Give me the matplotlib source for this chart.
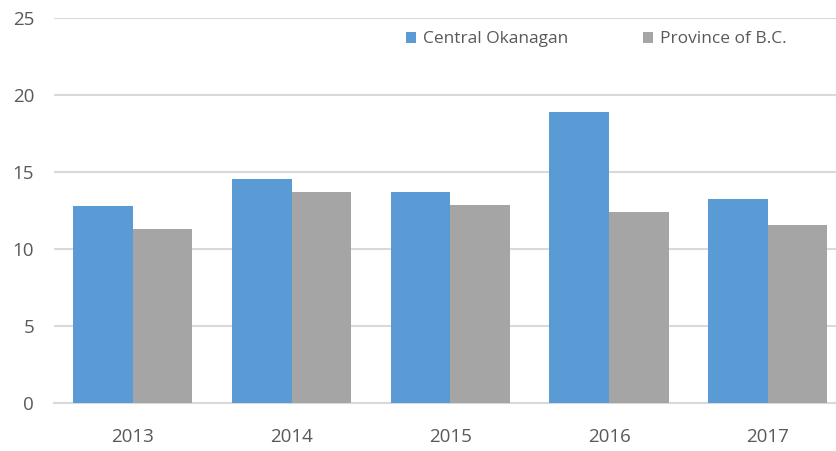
import matplotlib.pyplot as plt
import numpy as np

# Data
years = ['2013', '2014', '2015', '2016', '2017']
central_okanagan = [12.8, 14.5, 13.7, 18.9, 13.2]
province_bc = [11.3, 13.7, 12.85, 12.4, 11.55]

BLUE = '#5B9BD5'
GRAY = '#A5A5A5'
TEXT = '#595959'
GRID = '#D9D9D9'

plt.rcParams['font.family'] = ['Open Sans', 'DejaVu Sans']

fig = plt.figure(figsize=(8.37, 4.51), dpi=100)
# plot area runs a little past the right edge, as in the original
ax = fig.add_axes([0.064, 0.1075, 0.948, 0.853])

x = np.arange(len(years))
w = 0.375
ax.bar(x - w / 2, central_okanagan, w, color=BLUE, label='Central Okanagan', zorder=3)
ax.bar(x + w / 2, province_bc, w, color=GRAY, label='Province of B.C.', zorder=3)

ax.set_xlim(-0.5, len(years) - 0.5)
ax.set_ylim(0, 25)
ax.set_yticks(range(0, 26, 5))
ax.set_xticks(x)
ax.set_xticklabels(years)
ax.yaxis.grid(True, color=GRID, linewidth=1.5, zorder=0)
ax.set_axisbelow(True)
for s in ['top', 'right', 'left']:
    ax.spines[s].set_visible(False)
ax.spines['bottom'].set_color(GRID)
ax.spines['bottom'].set_linewidth(1.5)
ax.tick_params(axis='both', length=0, labelsize=13.5, colors=TEXT)
ax.tick_params(axis='y', pad=14)
ax.tick_params(axis='x', pad=18)

ax.legend(loc='upper left', bbox_to_anchor=(0.466, 0.965), bbox_transform=fig.transFigure,
          ncol=2, frameon=False, fontsize=12.5, handlelength=0.6, handleheight=0.6,
          handletextpad=0.4, columnspacing=4.3, labelcolor=TEXT)

fig.savefig('out.png', dpi=100)
